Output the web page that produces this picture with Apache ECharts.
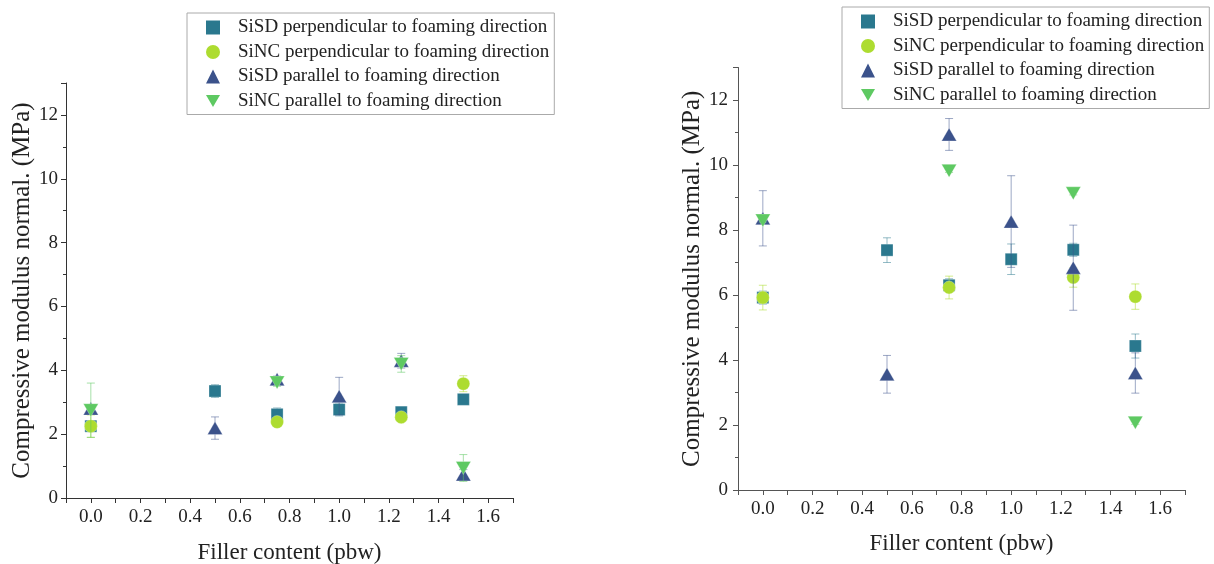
<!DOCTYPE html>
<html><head><meta charset="utf-8">
<script src="https://cdn.jsdelivr.net/npm/echarts@6/dist/echarts.min.js"></script>
<style>html,body{margin:0;padding:0;background:#fff}#c{width:1214px;height:564px}</style>
</head><body><div id="c"></div>
<script>
// ---- data ----
const seriesNames = [
  'SiSD perpendicular to foaming direction',
  'SiNC perpendicular to foaming direction',
  'SiSD parallel to foaming direction',
  'SiNC parallel to foaming direction'
];
const xSiSD = [0, 0.5, 0.75, 1.0, 1.25, 1.5];
const xSiNC = [0, 0.75, 1.25, 1.5];

// left panel
const leftSiSDPerp    = [2.25, 3.35, 2.62, 2.77, 2.69, 3.09];
const leftSiSDPerpErr = [0.15, 0.2, 0.2, 0.2, 0.1, 0.12];
const leftSiNCPerp    = [2.25, 2.38, 2.53, 3.58];
const leftSiNCPerpErr = [0.35, 0.1, 0.08, 0.25];
const leftSiSDPar     = [2.8, 2.19, 3.72, 3.19, 4.3, 0.74];
const leftSiSDParErr  = [0.1, 0.35, 0.1, 0.59, 0.23, 0.15];
const leftSiNCPar     = [2.75, 3.62, 4.2, 0.94];
const leftSiNCParErr  = [0.85, 0.12, 0.26, 0.42];

// right panel
const rightSiSDPerp    = [5.92, 7.38, 6.3, 7.1, 7.39, 4.43];
const rightSiSDPerpErr = [0.2, 0.38, 0.2, 0.47, 0.2, 0.37];
const rightSiNCPerp    = [5.92, 6.23, 6.54, 5.95];
const rightSiNCPerpErr = [0.38, 0.35, 0.3, 0.39];
const rightSiSDPar     = [8.36, 3.56, 10.94, 8.26, 6.84, 3.6];
const rightSiSDParErr  = [0.85, 0.58, 0.49, 1.41, 1.31, 0.62];
const rightSiNCPar     = [8.29, 9.82, 9.13, 2.07];
const rightSiNCParErr  = [0.05, 0.05, 0.05, 0.05];

const yTicks = [0, 2, 4, 6, 8, 10, 12];

// ---- styles ----
const colors = ['#2a788e', '#addc30', '#3b528b', '#5ec962'];
const errColors = ['rgba(42,120,142,0.5)', 'rgba(173,220,48,0.55)', 'rgba(59,82,139,0.5)', 'rgba(94,201,98,0.55)'];
const symbols = ['rect', 'circle', 'triangle', 'path://M0,0L10,0L5,8.66Z'];
const symbolSizes = [12, 13, [15, 13], [15, 13]];
const FONT = '"Liberation Serif", "Times New Roman", serif';

function zip(xs, ys, es) { return xs.map((x, i) => [x, ys[i], es[i]]); }

function errRender(color) {
  return function (params, api) {
    const x = api.value(0), y = api.value(1), e = api.value(2);
    const t = api.coord([x, y + e]), b = api.coord([x, y - e]);
    const w = 4;
    const st = { stroke: color, lineWidth: 1 };
    return { type: 'group', children: [
      { type: 'line', shape: { x1: t[0], y1: t[1], x2: b[0], y2: b[1] }, style: st },
      { type: 'line', shape: { x1: t[0] - w, y1: t[1], x2: t[0] + w, y2: t[1] }, style: st },
      { type: 'line', shape: { x1: b[0] - w, y1: b[1], x2: b[0] + w, y2: b[1] }, style: st }
    ]};
  };
}

const panels = [
  { sets: [[xSiSD, leftSiSDPerp, leftSiSDPerpErr], [xSiNC, leftSiNCPerp, leftSiNCPerpErr],
           [xSiSD, leftSiSDPar, leftSiSDParErr], [xSiNC, leftSiNCPar, leftSiNCParErr]] },
  { sets: [[xSiSD, rightSiSDPerp, rightSiSDPerpErr], [xSiNC, rightSiNCPerp, rightSiNCPerpErr],
           [xSiSD, rightSiSDPar, rightSiSDParErr], [xSiNC, rightSiNCPar, rightSiNCParErr]] }
];

const series = [];
panels.forEach((p, pi) => {
  p.sets.forEach((s, si) => {
    const d = zip(s[0], s[1], s[2]);
    series.push({ type: 'custom', xAxisIndex: pi, yAxisIndex: pi, renderItem: errRender(errColors[si]),
      encode: { x: 0, y: 1 }, data: d, z: 2 + si * 2, silent: true });
    series.push({ type: 'scatter', name: seriesNames[si], xAxisIndex: pi, yAxisIndex: pi,
      symbol: symbols[si], symbolSize: symbolSizes[si], data: d.map(v => [v[0], v[1]]),
      itemStyle: { color: colors[si], opacity: 1, borderColor: 'rgba(255,255,255,0.35)', borderWidth: 0.8 },
      z: 3 + si * 2 });
  });
});

const axisCols = ['#333', '#555'];
const yNameGaps = [31, 30];
const xNameGaps = [43, 42];
function xAxis(i) {
  return { type: 'value', gridIndex: i, min: -0.1, max: 1.7, interval: 0.1,
    name: 'Filler content (pbw)', nameLocation: 'middle', nameGap: xNameGaps[i],
    nameTextStyle: { fontFamily: FONT, fontSize: 23, color: '#222' },
    axisLine: { show: true, onZero: false, lineStyle: { color: axisCols[i], width: 1 } },
    axisTick: { show: true, inside: false, length: 5, lineStyle: { color: axisCols[i] } },
    splitLine: { show: false },
    axisLabel: { fontFamily: FONT, fontSize: 19, color: '#222', margin: 10,
      formatter: v => { const k = Math.round(v * 10); return (k >= 0 && k % 2 === 0) ? (k / 10).toFixed(1) : ''; } }
  };
}
function yAxis(i) {
  return { type: 'value', gridIndex: i, min: 0, max: 13, interval: 2,
    name: 'Compressive modulus normal. (MPa)', nameLocation: 'middle', nameGap: yNameGaps[i],
    nameTextStyle: { fontFamily: FONT, fontSize: 25, color: '#222' },
    axisLine: { show: true, onZero: false, lineStyle: { color: axisCols[i], width: 1 } },
    axisTick: { show: true, inside: false, length: 5, lineStyle: { color: axisCols[i] } },
    minorTick: { show: true, splitNumber: 2, length: 3, lineStyle: { color: axisCols[i] } },
    splitLine: { show: false },
    axisLabel: { fontFamily: FONT, fontSize: 19, color: '#222', margin: i === 0 ? 8 : 10,
      formatter: v => yTicks.indexOf(v) >= 0 ? String(v) : '' }
  };
}
function legend(left, top) {
  return { orient: 'vertical', left: left, top: top, padding: [5, 5, 4, 19], itemGap: 5.5,
    itemWidth: 14, itemHeight: 14, borderColor: '#aaa', borderWidth: 1, selectedMode: false,
    textStyle: { fontFamily: FONT, fontSize: 19, color: '#222', lineHeight: 19, padding: [0, 0, 0, 13] },
    data: seriesNames.map((n, i) => ({ name: n, icon: symbols[i],
      itemStyle: { color: colors[i], borderWidth: 0 } })) };
}

const chart = echarts.init(document.getElementById('c'), null, { renderer: 'canvas' });
chart.setOption({
  animation: false,
  backgroundColor: '#fff',
  grid: [
    { left: 66, top: 83, width: 447, height: 415, containLabel: false, outerBoundsMode: 'none' },
    { left: 738, top: 67.5, width: 447, height: 422.5, containLabel: false, outerBoundsMode: 'none' }
  ],
  xAxis: [xAxis(0), xAxis(1)],
  yAxis: [yAxis(0), yAxis(1)],
  legend: [legend(187, 13), legend(842, 7)],
  series: series
});
</script></body></html>
